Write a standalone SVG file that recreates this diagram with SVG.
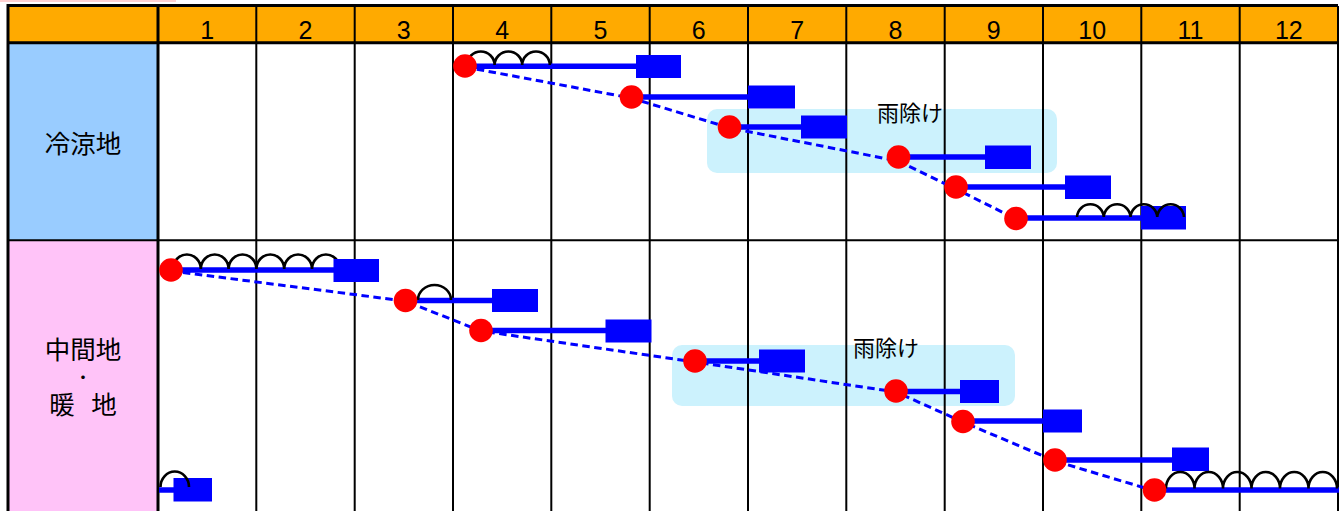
<svg xmlns="http://www.w3.org/2000/svg" width="1340" height="511" viewBox="0 0 1340 511">
<style>
.num{font-family:"Liberation Sans",Arial,sans-serif;font-size:25px;text-anchor:middle;fill:#000}
.lab{font-family:"Noto Sans CJK JP","Noto Sans CJK SC",sans-serif;font-size:25.5px;text-anchor:middle;fill:#000}
.mid{font-family:"Noto Sans CJK JP","Noto Sans CJK SC",sans-serif;font-size:14px;font-weight:bold;text-anchor:middle;fill:#000}
.rain{font-family:"Noto Sans CJK JP","Noto Sans CJK SC",sans-serif;font-size:22px;text-anchor:middle;fill:#000}
.grid{stroke:#000;stroke-width:2;fill:none}
.thick{stroke:#000;stroke-width:3;fill:none}
.bar{stroke:#0000ff;stroke-width:5.5;fill:none}
.box{fill:#0000ff}
.dot{fill:#ff0000}
.hump{stroke:#000;stroke-width:2.6;fill:none}
.dash{stroke:#0000ff;stroke-width:3;fill:none;stroke-dasharray:7.5 4.5}
.shelter{fill:#ccf2fd}
</style>
<rect x="0" y="0" width="1340" height="511" fill="#fff"/>
<rect x="0" y="0" width="176" height="2" fill="#ffd0d0"/>
<g id="header">
<rect x="8" y="6" width="1330" height="37" fill="#ffaa00"/>
</g>
<g id="label-cool"><rect x="8" y="43" width="150" height="197" fill="#99ccff"/></g>
<g id="label-warm"><rect x="8" y="240" width="150" height="271" fill="#ffc3f8"/></g>
<g id="shelter-1"><rect class="shelter" x="707" y="109" width="350" height="64" rx="10"/></g>
<g id="shelter-2"><rect class="shelter" x="672" y="345" width="343" height="61" rx="10"/></g>
<g id="grid">
<path class="grid" d="M256.3,6V511M354.7,6V511M453,6V511M551.3,6V511M649.7,6V511M748,6V511M846.3,6V511M944.7,6V511M1043,6V511M1141.3,6V511M1239.7,6V511M1338,6V511"/>
<path class="grid" d="M8,240.3H1338"/>
<path class="thick" d="M8,511V5.5H1338M6.5,42.8H1338M158,6V511"/>
</g>
<g id="header-text">
<text class="num" x="207.2" y="39">1</text>
<text class="num" x="305.5" y="39">2</text>
<text class="num" x="403.8" y="39">3</text>
<text class="num" x="502.2" y="39">4</text>
<text class="num" x="600.5" y="39">5</text>
<text class="num" x="698.8" y="39">6</text>
<text class="num" x="797.2" y="39">7</text>
<text class="num" x="895.5" y="39">8</text>
<text class="num" x="993.8" y="39">9</text>
<text class="num" x="1092.2" y="39">10</text>
<text class="num" x="1190.5" y="39">11</text>
<text class="num" x="1288.8" y="39">12</text>
</g>
<g id="row-labels">
<text class="lab" x="83" y="152.5">冷涼地</text>
<text class="lab" x="83" y="359">中間地</text>
<text class="mid" x="83" y="381.5">・</text>
<text class="lab" x="83" y="413.5" xml:space="preserve" word-spacing="11">暖 地</text>
</g>
<g id="shelter-labels">
<text class="rain" x="910" y="121">雨除け</text>
<text class="rain" x="886" y="355.5">雨除け</text>
</g>
<g id="connectors">
<polyline class="dash" points="465,67 631,98 730,128 898,161 956,189 1016,219"/>
<polyline class="dash" points="171,271 405,301 481,331 695,362 896,392 963,422 1055,461 1155,491"/>
</g>
<g id="task-1a">
<path class="bar" d="M465,66.3H636"/>
<path class="hump" d="M467,65a13.8,13.5 0 0 1 27.6,0a13.8,13.5 0 0 1 27.6,0a13.8,13.5 0 0 1 27.6,0"/>
<rect class="box" x="636" y="55" width="45" height="23"/>
<circle class="dot" cx="465" cy="66" r="11.8"/>
</g>
<g id="task-1b">
<path class="bar" d="M631,97H748"/>
<rect class="box" x="748" y="85.5" width="47" height="23"/>
<circle class="dot" cx="631.5" cy="97" r="11.8"/>
</g>
<g id="task-1c">
<path class="bar" d="M730,127H801"/>
<rect class="box" x="801" y="115.5" width="46" height="23"/>
<circle class="dot" cx="729.5" cy="127" r="11.8"/>
</g>
<g id="task-1d">
<path class="bar" d="M898,157H985"/>
<rect class="box" x="985" y="145.5" width="46" height="23.5"/>
<circle class="dot" cx="898.5" cy="157" r="11.8"/>
</g>
<g id="task-1e">
<path class="bar" d="M956,187H1065"/>
<rect class="box" x="1065" y="175.5" width="46" height="23.5"/>
<circle class="dot" cx="956" cy="187" r="11.8"/>
</g>
<g id="task-1f">
<path class="bar" d="M1016,218H1141"/>
<rect class="box" x="1141" y="206" width="45" height="23.5"/>
<path class="hump" d="M1077,217a13.4,13.5 0 0 1 26.75,0a13.4,13.5 0 0 1 26.75,0a13.4,13.5 0 0 1 26.75,0a13.4,13.5 0 0 1 26.75,0"/>
<circle class="dot" cx="1016" cy="218.5" r="11.8"/>
</g>
<g id="task-2a">
<path class="bar" d="M171,270H334"/>
<path class="hump" d="M173,269a13.9,14.5 0 0 1 27.8,0a13.9,14.5 0 0 1 27.8,0a13.9,14.5 0 0 1 27.8,0a13.9,14.5 0 0 1 27.8,0a13.9,14.5 0 0 1 27.8,0a13.9,14.5 0 0 1 27.8,0"/>
<rect class="box" x="333.5" y="259" width="45.5" height="23"/>
<circle class="dot" cx="171" cy="270" r="11.8"/>
</g>
<g id="task-2b">
<path class="bar" d="M405,300.5H492"/>
<path class="hump" d="M418,300a16.5,15 0 0 1 33,0"/>
<rect class="box" x="492" y="289" width="46" height="23"/>
<circle class="dot" cx="405.5" cy="300.5" r="11.8"/>
</g>
<g id="task-2c">
<path class="bar" d="M481,330.5H606"/>
<rect class="box" x="605.5" y="319.5" width="46" height="23"/>
<circle class="dot" cx="481" cy="330.5" r="11.8"/>
</g>
<g id="task-2d">
<path class="bar" d="M695,361H759"/>
<rect class="box" x="759" y="349.5" width="46" height="23"/>
<circle class="dot" cx="695" cy="361" r="11.8"/>
</g>
<g id="task-2e">
<path class="bar" d="M896,391.5H960"/>
<rect class="box" x="960" y="380" width="39" height="23"/>
<circle class="dot" cx="896" cy="391" r="11.8"/>
</g>
<g id="task-2f">
<path class="bar" d="M963,421H1043"/>
<rect class="box" x="1043" y="409.5" width="39" height="23"/>
<circle class="dot" cx="963" cy="421.5" r="11.8"/>
</g>
<g id="task-2g">
<path class="bar" d="M1055,460H1172"/>
<rect class="box" x="1172" y="447.5" width="37" height="23.5"/>
<circle class="dot" cx="1055" cy="460" r="11.8"/>
</g>
<g id="task-2h">
<path class="bar" d="M1155,490H1339"/>
<path class="hump" d="M1166,488.5a14.25,16.5 0 0 1 28.5,0a14.25,16.5 0 0 1 28.5,0a14.25,16.5 0 0 1 28.5,0a14.25,16.5 0 0 1 28.5,0a14.25,16.5 0 0 1 28.5,0a14.25,16.5 0 0 1 28.5,0"/>
<circle class="dot" cx="1154.5" cy="490" r="11.8"/>
</g>
<g id="task-2i">
<path class="bar" d="M159,490H174"/>
<rect class="box" x="173.5" y="478" width="38.5" height="23.5"/>
<path class="hump" d="M160.5,487a14.25,15.5 0 0 1 28.5,0"/>
</g>
</svg>
